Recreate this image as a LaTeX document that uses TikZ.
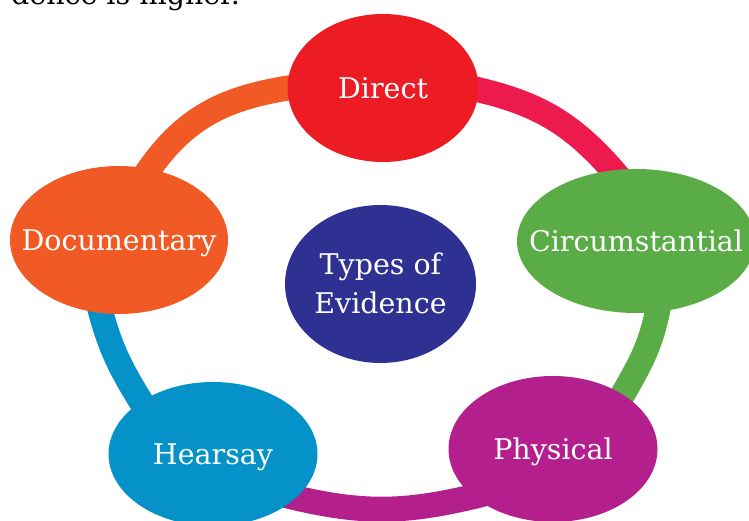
\documentclass[tikz,border=0pt]{standalone}
\usepackage{fontspec}
\setmainfont{DejaVu Serif}
\usetikzlibrary{shapes.geometric,backgrounds}
\definecolor{cdir}{HTML}{ED1C24}
\definecolor{cdirband}{HTML}{ED1A4D}
\definecolor{ccirc}{HTML}{5AAC47}
\definecolor{cdoc}{HTML}{F15A24}
\definecolor{chear}{HTML}{0492C8}
\definecolor{cphys}{HTML}{B31F8D}
\definecolor{cctr}{HTML}{2E3192}
\begin{document}
\begin{tikzpicture}[x=1pt,y=1pt,
  txt/.style={font=\fontsize{28.5}{39}\selectfont},
  blob/.style={ellipse, inner sep=0pt, outer sep=0pt, text=white, txt, text height=21pt, text depth=0pt},
  band/.style={line width=25pt, shorten <=-12pt, shorten >=-12pt}]
\useasboundingbox (0,0) rectangle (749,521);
\clip (0,0) rectangle (749,521);
\node[txt, anchor=base east, inner sep=0pt] (top) at (240,516.5) {dence is higher.};
\node[blob, fill=cdir, minimum width=191pt, minimum height=148pt] (dir) at (383,433) {\makebox[0pt]{Direct}};
\node[blob, fill=ccirc, minimum width=238pt, minimum height=144pt] (circ) at (636,280) {\makebox[0pt]{Circumstantial}};
\node[blob, fill=cdoc, minimum width=218pt, minimum height=148pt] (doc) at (119,281) {\makebox[0pt]{Documentary}};
\node[blob, fill=chear, minimum width=209pt, minimum height=144pt] (hear) at (213,67) {\makebox[0pt]{Hearsay}};
\node[blob, fill=cphys, minimum width=209pt, minimum height=146pt] (phys) at (553,72) {\makebox[0pt]{Physical}};
\node[blob, fill=cctr, minimum width=191pt, minimum height=158pt, text height=60pt] (ctr) at (380.5,237)
  {\makebox[0pt]{\begin{tabular}[b]{@{}c@{}}Types of\\Evidence\end{tabular}}};
\begin{pgfonlayer}{background}
\draw[band, cdoc] (doc.67) to[out=57, in=188] (dir.180);
\draw[band, cdirband] (dir.-1) to[out=-12, in=130] (circ.108);
\draw[band, ccirc] (circ.-73) to[out=-100, in=60] (phys.38);
\draw[band, cphys] (phys.211) to[out=194, in=-14] (hear.-28);
\draw[band, chear] (hear.144) to[out=122, in=-76] (doc.256);
\end{pgfonlayer}
\end{tikzpicture}
\end{document}
